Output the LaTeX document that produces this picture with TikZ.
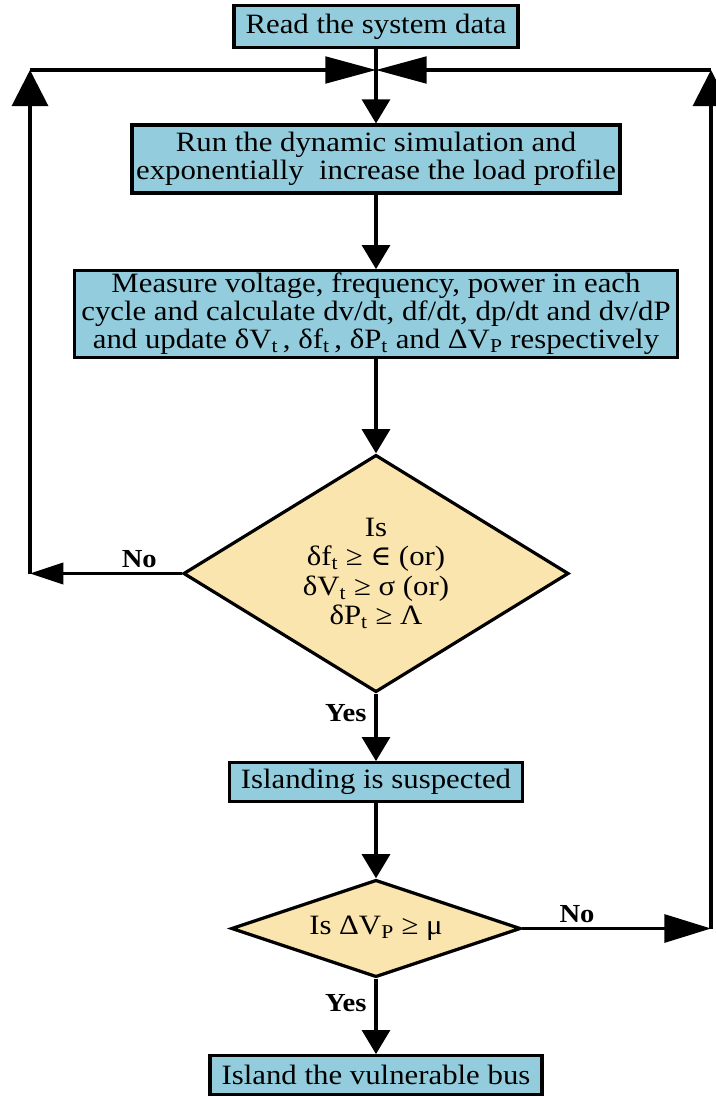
\documentclass[tikz,border=0pt]{standalone}
\usepackage{fontspec}
\setmainfont{Liberation Serif}[FakeStretch=1.1]
\newfontfamily\symfont{DejaVu Serif}
\usetikzlibrary{positioning,arrows.meta,shapes.geometric}
\definecolor{boxBlue}{HTML}{93CDDD}
\definecolor{paleGold}{HTML}{FBE5AE}
\tikzset{
  process/.style={rectangle, draw=black, line width=2.4pt, fill=boxBlue,
                  align=center, inner sep=0pt, font=\fontsize{21}{21}\selectfont},
  decision/.style={diamond, draw=black, line width=2.4pt, fill=paleGold,
                   align=center, inner sep=0pt, font=\fontsize{21}{22}\selectfont},
  link/.style={line width=2.3pt, draw=black},
  flow/.style={link, -{Triangle[length=18pt,width=21pt]}},
  answer/.style={font=\fontsize{19.5}{20}\selectfont\bfseries, inner sep=6pt}
}

\begin{document}
\begin{tikzpicture}[x=0.75pt,y=-0.75pt]
  \useasboundingbox (0,0) rectangle (715,1097);

  \node[process, minimum width=213pt, minimum height=31pt] (read) at (376,26.5) {Read the system data};
  \node[process, minimum width=366pt, minimum height=51pt] (run) at (376,159)
    {Run the dynamic simulation and\\exponentially\ \ increase the load profile};
  \node[process, minimum width=452pt, minimum height=65pt] (measure) at (376,314)
    {Measure voltage, frequency, power in each\\
     cycle and calculate dv/dt, df/dt, dp/dt and dv/dP\\
     and update δV\textsubscript{t}\,, δf\textsubscript{t}\,, δP\textsubscript{t} and ΔV\textsubscript{P} respectively};
  \node[decision, aspect=1.62, minimum width=289pt, minimum height=178pt] (check) at (376,573.5)
    {Is\\
     δf\textsubscript{t} ≥ {\symfont ∈} (or)\\
     δV\textsubscript{t} ≥ σ (or)\\
     δP\textsubscript{t} ≥ Λ};
  \node[process, minimum width=220pt, minimum height=29pt] (suspect) at (376,782) {Islanding is suspected};
  \node[decision, aspect=3, minimum width=217pt, minimum height=73pt] (mucheck) at (376,928.5)
    {Is ΔV\textsubscript{P} ≥ μ};
  \node[process, minimum width=249pt, minimum height=29pt] (island) at (376,1075) {Island the vulnerable bus};

  \coordinate (meet) at (376,70);
  \coordinate (topL) at (30,70);
  \coordinate (lowL) at (30,573.5);
  \coordinate (topR) at (711,70);
  \coordinate (lowR) at (711,928.5);

  \draw[link] (read) -- (meet);
  \draw[flow] (meet) -- (run);
  \draw[flow] (run) -- (measure);
  \draw[flow] (measure) -- (check);
  \draw[flow] (check) -- node[answer, pos=0.28, left] {Yes} (suspect);
  \draw[flow] (suspect) -- (mucheck);
  \draw[flow] (mucheck) -- node[answer, pos=0.32, left] {Yes} (island);

  % return paths to the top of the loop
  \draw[link, -{Triangle[length=25pt,width=16pt]}] (check.west) -- node[answer, pos=0.28, above, inner sep=3pt] {No} (lowL);
  \draw[link, -{Triangle[length=27pt,width=27pt]}] (lowL) -- (topL);
  \draw[link, -{Triangle[length=38pt,width=20pt]}] (topL) -- (meet);
  \draw[link, -{Triangle[length=35pt,width=21pt]}] (mucheck.east) -- node[answer, pos=0.29, above, inner sep=3pt] {No} (lowR);
  \draw[link, -{Triangle[length=27pt,width=27pt]}] (lowR) -- (topR);
  \draw[link, -{Triangle[length=38pt,width=20pt]}] (topR) -- (meet);
\end{tikzpicture}
\end{document}
